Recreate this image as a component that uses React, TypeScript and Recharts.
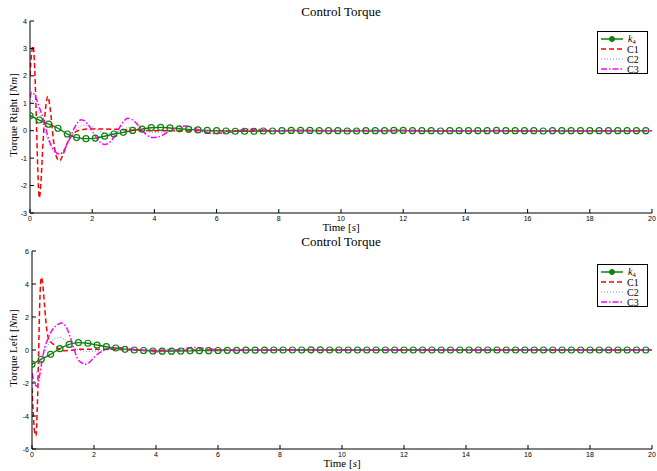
import { LineChart, Line, XAxis, YAxis } from 'recharts';

// k4 is sampled (and marked) every 0.3 s
const kTime = [
  0, 0.3, 0.6, 0.9, 1.2, 1.5, 1.8, 2.1, 2.4, 2.7, 3, 3.3, 3.6, 3.9, 4.2, 4.5, 4.8, 5.1, 5.4, 5.7,
  6, 6.3, 6.6, 6.9, 7.2, 7.5, 7.8, 8.1, 8.4, 8.7, 9, 9.3, 9.6, 9.9, 10.2, 10.5, 10.8, 11.1, 11.4, 11.7,
  12, 12.3, 12.6, 12.9, 13.2, 13.5, 13.8, 14.1, 14.4, 14.7, 15, 15.3, 15.6, 15.9, 16.2, 16.5, 16.8, 17.1, 17.4, 17.7,
  18, 18.3, 18.6, 18.9, 19.2, 19.5, 19.8,
];

// Torque Right
const rightK4 = [
  0.55, 0.39, 0.24, 0.09, -0.12, -0.25, -0.29, -0.27, -0.2, -0.12, -0.06, 0.01, 0.06, 0.11, 0.12, 0.1, 0.07, 0.05, 0.03, 0.01,
  0, -0.01, -0.02, -0.02, -0.02, -0.01, -0.01, 0, 0.01, 0.01, 0.01, 0, 0, 0, -0.01, -0.01, 0, 0, 0, 0.01,
  0.01, 0, 0, 0, -0.01, 0, 0, 0, 0, 0, 0.01, 0, 0, 0, 0, -0.01, 0, 0, 0, 0,
  0, 0, 0, 0, 0, 0, 0,
];
const rightC1Time = [0, 0.05, 0.1, 0.15, 0.2, 0.25, 0.3, 0.35, 0.42, 0.5, 0.57, 0.65, 0.75, 0.85, 0.95, 1.05, 1.2, 1.4, 1.6, 1.9, 2.3, 2.8, 3.3, 4, 5, 7, 10, 14, 20];
const rightC1 = [2.0, 2.8, 3.1, 2.3, 0.6, -1.4, -2.45, -1.9, -0.4, 0.8, 1.25, 0.8, -0.3, -0.95, -1.1, -0.9, -0.45, -0.1, 0.02, 0.06, 0.06, 0.05, 0.02, 0, 0, 0, 0.01, 0, 0];
const rightC2Time = [0, 0.1, 0.25, 0.4, 0.55, 0.7, 0.85, 0.95, 1.1, 1.3, 1.5, 1.75, 2.0, 2.3, 2.6, 2.9, 3.2, 3.5, 3.9, 4.3, 4.8, 5.3, 6, 8, 20];
const rightC2 = [1.0, 1.1, 0.8, 0.3, -0.25, -0.65, -0.85, -0.85, -0.7, -0.3, 0.05, 0.2, 0.15, -0.05, -0.1, 0.0, 0.12, 0.08, -0.06, -0.05, 0.03, 0.02, 0, 0, 0];
const rightC3Time = [0, 0.05, 0.15, 0.3, 0.45, 0.6, 0.8, 0.95, 1.1, 1.25, 1.45, 1.65, 1.85, 2.05, 2.2, 2.4, 2.6, 2.8, 2.95, 3.15, 3.35, 3.55, 3.75, 3.95, 4.2, 4.5, 4.8, 5.0, 5.3, 5.6, 5.9, 6.2, 6.6, 7.0, 7.4, 8, 9, 12, 20];
const rightC3 = [1.2, 1.4, 1.3, 0.85, 0.35, -0.3, -0.75, -0.85, -0.7, -0.35, 0.15, 0.4, 0.25, -0.1, -0.35, -0.5, -0.38, -0.05, 0.25, 0.45, 0.35, 0.1, -0.15, -0.25, -0.2, 0.0, 0.14, 0.17, 0.08, -0.05, -0.1, -0.08, -0.02, 0.05, 0.04, 0.0, 0, 0, 0];

// Torque Left
const leftK4 = [
  -0.86, -0.56, -0.26, 0.08, 0.34, 0.45, 0.41, 0.3, 0.2, 0.12, 0.04, 0, -0.03, -0.06, -0.07, -0.07, -0.06, -0.05, -0.04, -0.04,
  -0.03, -0.02, -0.02, -0.01, -0.01, -0.01, 0, 0, 0, 0, 0.01, 0.01, 0, 0, 0, 0, 0, 0, 0, 0,
  0, 0, 0, 0, 0, 0, 0, 0, 0, 0, 0, 0, 0, 0, 0, 0, 0, 0, 0, 0,
  0, 0, 0, 0, 0, 0, 0,
];
const leftC1Time = [0, 0.04, 0.08, 0.13, 0.17, 0.21, 0.25, 0.3, 0.34, 0.4, 0.46, 0.53, 0.62, 0.72, 0.85, 1.0, 1.2, 1.5, 2.0, 2.5, 3.0, 4.0, 6, 10, 20];
const leftC1 = [-2.3, -3.8, -4.9, -5.2, -3.5, -0.5, 2.8, 4.4, 4.1, 2.8, 1.5, 0.7, 0.45, 0.3, 0.08, -0.05, -0.03, 0.04, 0.05, 0.04, 0.02, -0.02, 0, 0, 0];
const leftC2Time = [0, 0.1, 0.2, 0.3, 0.45, 0.6, 0.75, 0.9, 1.05, 1.2, 1.35, 1.5, 1.8, 2.2, 2.6, 3.0, 4, 20];
const leftC2 = [-1.6, -1.5, -1.1, -0.5, 0.1, 0.5, 0.7, 0.76, 0.65, 0.4, 0.15, 0.0, -0.08, -0.05, 0.04, 0.02, 0, 0];
const leftC3Time = [0, 0.08, 0.16, 0.24, 0.32, 0.41, 0.52, 0.63, 0.8, 0.95, 1.1, 1.24, 1.35, 1.45, 1.58, 1.72, 1.85, 2.0, 2.15, 2.3, 2.5, 2.8, 3.1, 3.5, 4.0, 4.6, 5.2, 5.8, 6.5, 8, 20];
const leftC3 = [-1.4, -2.0, -2.2, -1.6, -0.7, 0.14, 0.7, 1.14, 1.5, 1.63, 1.4, 0.74, 0.1, -0.46, -0.75, -0.86, -0.75, -0.46, -0.2, -0.04, 0.1, 0.15, 0.08, 0.0, -0.1, -0.02, 0.15, 0.05, -0.03, 0, 0];

const xTicks = [0, 2, 4, 6, 8, 10, 12, 14, 16, 18, 20];
const rightTicks = [-3, -2, -1, 0, 1, 2, 3, 4];
const leftTicks = [-6, -4, -2, 0, 2, 4, 6];

const GREEN = '#0d800d';
const RED = '#ff0000';
const BLUE = '#8080f0';
const MAGENTA = '#ff00ff';

const serif = '"Liberation Serif", "Times New Roman", serif';
const sans = '"Liberation Sans", Arial, sans-serif';

type Pt = { t: number; v: number };
const zip = (ts: number[], vs: number[]): Pt[] => ts.map((t, i) => ({ t, v: vs[i] }));

const BottomTick = ({ x, y, payload }: any) => (
  <g>
    <line x1={x} x2={x} y1={y - 3} y2={y - 7} stroke="#000" />
    <text x={x} y={y + 4.5} textAnchor="middle" fontSize={7} fontFamily={sans} fill="#000">
      {payload.value}
    </text>
  </g>
);
const TopTick = ({ x, y }: any) => <line x1={x} x2={x} y1={y} y2={y + 4} stroke="#000" />;
const LeftTick = ({ x, y, payload }: any) => (
  <g>
    <line x1={x + 3} x2={x + 7} y1={y} y2={y} stroke="#000" />
    <text x={x} y={y + 2.5} textAnchor="end" fontSize={7} fontFamily={sans} fill="#000">
      {payload.value}
    </text>
  </g>
);
const RightTick = ({ x, y }: any) => <line x1={x - 4} x2={x} y1={y} y2={y} stroke="#000" />;

function LegendBox() {
  const rows = [
    { name: 'C1', color: RED, dash: '5 3', w: 1.5 },
    { name: 'C2', color: BLUE, dash: '1 2', w: 1 },
    { name: 'C3', color: MAGENTA, dash: '6 2 1.5 2', w: 1.5 },
  ];
  return (
    <svg
      width={51}
      height={43}
      style={{ position: 'absolute', left: 597, top: 31, background: '#fff', border: '1px solid #000', boxSizing: 'border-box' }}
    >
      <line x1={3} x2={25} y1={7} y2={7} stroke={GREEN} strokeWidth={1.5} />
      <circle cx={14} cy={7} r={2.5} fill={GREEN} stroke={GREEN} />
      <text x={30} y={10} fontSize={10} fontFamily={serif} fill="#000">
        <tspan fontStyle="italic">k</tspan>
        <tspan fontSize={6.5} dy={1.5}>4</tspan>
      </text>
      {rows.map((r, i) => (
        <g key={r.name}>
          <line x1={3} x2={25} y1={17 + i * 10} y2={17 + i * 10} stroke={r.color} strokeWidth={r.w} strokeDasharray={r.dash} />
          <text x={29} y={20.5 + i * 10} fontSize={10} fontFamily={serif} fill="#000">
            {r.name}
          </text>
        </g>
      ))}
    </svg>
  );
}

type PanelProps = {
  top: number;
  height: number;
  marginTop: number;
  marginBottom: number;
  plotLeft: number;
  side: string;
  domain: [number, number];
  ticks: number[];
  k4: number[];
  c1: Pt[];
  c2: Pt[];
  c3: Pt[];
};

function Panel({ top, height, marginTop, marginBottom, plotLeft, side, domain, ticks, k4, c1, c2, c3 }: PanelProps) {
  const k4Data = zip(kTime, k4);
  return (
    <div style={{ position: 'absolute', left: 0, top, width: 657, height }}>
      <div
        style={{
          position: 'absolute',
          left: 241,
          width: 200,
          top: marginTop - 17,
          textAlign: 'center',
          fontFamily: serif,
          fontSize: 13,
          lineHeight: '16px',
        }}
      >
        Control Torque
      </div>
      <LineChart width={657} height={height} margin={{ top: marginTop, right: 5, bottom: marginBottom, left: 0 }}>
        <XAxis
          xAxisId="b"
          type="number"
          dataKey="t"
          domain={[0, 20]}
          ticks={xTicks}
          interval={0}
          allowDataOverflow
          height={20}
          tickSize={0}
          tickMargin={3}
          tick={(p: any) => <BottomTick {...p} />}
          axisLine={{ stroke: '#000' }}
          label={(p: any) => {
            const vb = p.viewBox;
            return (
              <text x={vb.x + vb.width / 2} y={vb.y + 18} textAnchor="middle" fontSize={11} fontFamily={serif} fill="#000">
                Time [<tspan fontStyle="italic">s</tspan>]
              </text>
            );
          }}
        />
        <XAxis
          xAxisId="t"
          orientation="top"
          type="number"
          dataKey="t"
          domain={[0, 20]}
          ticks={xTicks}
          interval={0}
          allowDataOverflow
          height={0}
          tickSize={0}
          tickMargin={0}
          tick={(p: any) => <TopTick {...p} />}
          axisLine={{ stroke: '#000' }}
        />
        <YAxis
          yAxisId="l"
          type="number"
          domain={domain}
          ticks={ticks}
          interval={0}
          allowDataOverflow
          width={plotLeft}
          tickSize={0}
          tickMargin={3}
          tick={(p: any) => <LeftTick {...p} />}
          axisLine={{ stroke: '#000' }}
          label={(p: any) => {
            const vb = p.viewBox;
            const cy = vb.y + vb.height / 2 - 2;
            return (
              <text x={17} y={cy} transform={`rotate(-90 17 ${cy})`} textAnchor="middle" fontSize={11} fontFamily={serif} fill="#000">
                Torque {side} [<tspan fontStyle="italic">Nm</tspan>]
              </text>
            );
          }}
        />
        <YAxis
          yAxisId="r"
          orientation="right"
          type="number"
          domain={domain}
          ticks={ticks}
          interval={0}
          allowDataOverflow
          width={0}
          tickSize={0}
          tickMargin={0}
          tick={(p: any) => <RightTick {...p} />}
          axisLine={{ stroke: '#000' }}
        />
        <Line
          xAxisId="b"
          yAxisId="l"
          data={k4Data}
          dataKey="v"
          type="monotone"
          stroke={GREEN}
          strokeWidth={1.4}
          dot={{ r: 3, stroke: GREEN, strokeWidth: 1.2, fill: 'none' }}
          activeDot={false}
          isAnimationActive={false}
        />
        <Line xAxisId="b" yAxisId="l" data={c1} dataKey="v" type="monotone" stroke={RED} strokeWidth={1.5} strokeDasharray="5 3" dot={false} activeDot={false} isAnimationActive={false} />
        <Line xAxisId="b" yAxisId="l" data={c2} dataKey="v" type="monotone" stroke={BLUE} strokeWidth={1} strokeDasharray="1 2" dot={false} activeDot={false} isAnimationActive={false} />
        <Line xAxisId="b" yAxisId="l" data={c3} dataKey="v" type="monotone" stroke={MAGENTA} strokeWidth={1.5} strokeDasharray="6 2 1.5 2" dot={false} activeDot={false} isAnimationActive={false} />
        <Line xAxisId="t" yAxisId="r" data={k4Data} dataKey="v" stroke="none" dot={false} activeDot={false} legendType="none" isAnimationActive={false} />
      </LineChart>
      <LegendBox />
    </div>
  );
}

export default function App() {
  return (
    <div style={{ position: 'absolute', left: 0, top: 0, width: 657, height: 471, background: '#fff' }}>
      <Panel
        top={0}
        height={233}
        marginTop={21}
        marginBottom={0}
        plotLeft={30}
        side="Right"
        domain={[-3, 4]}
        ticks={rightTicks}
        k4={rightK4}
        c1={zip(rightC1Time, rightC1)}
        c2={zip(rightC2Time, rightC2)}
        c3={zip(rightC3Time, rightC3)}
      />
      <Panel
        top={233}
        height={238}
        marginTop={18}
        marginBottom={2}
        plotLeft={32}
        side="Left"
        domain={[-6, 6]}
        ticks={leftTicks}
        k4={leftK4}
        c1={zip(leftC1Time, leftC1)}
        c2={zip(leftC2Time, leftC2)}
        c3={zip(leftC3Time, leftC3)}
      />
    </div>
  );
}
